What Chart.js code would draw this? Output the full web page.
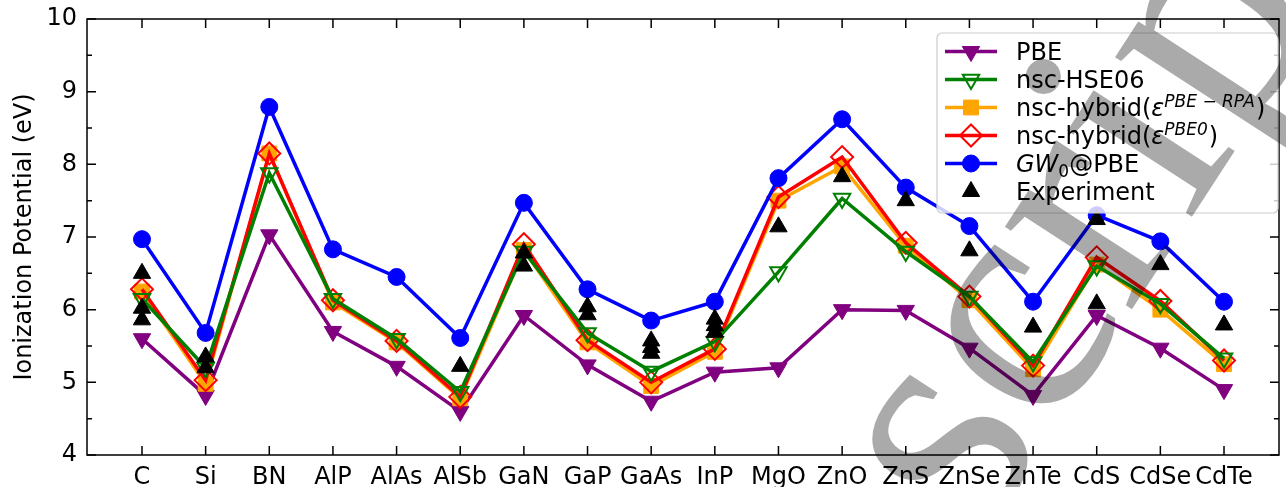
<!DOCTYPE html>
<html>
<head>
<meta charset="utf-8">
<script src="https://cdn.jsdelivr.net/npm/chart.js@4.4.1/dist/chart.umd.min.js"></script>
<style>
    html, body { margin: 0; padding: 0; background: #fff; overflow: hidden; }
    #wrap { width: 1292px; height: 487px; position: relative; }
</style>
</head>
<body>
<div id="wrap"><canvas id="chartCanvas"></canvas></div>
<script>
// Data
const categories = ['C', 'Si', 'BN', 'AlP', 'AlAs', 'AlSb', 'GaN', 'GaP', 'GaAs', 'InP',
    'MgO', 'ZnO', 'ZnS', 'ZnSe', 'ZnTe', 'CdS', 'CdSe', 'CdTe'];
const pbe = [5.60, 4.82, 7.03, 5.70, 5.22, 4.60, 5.92, 5.24, 4.74, 5.14, 5.20, 6.00, 5.99, 5.47, 4.82, 5.92, 5.47, 4.90];
const hse06 = [6.15, 5.20, 7.88, 6.15, 5.60, 4.87, 6.80, 5.68, 5.15, 5.56, 6.52, 7.53, 6.80, 6.18, 5.28, 6.60, 6.08, 5.33];
const hybridRpa = [6.25, 4.98, 8.15, 6.10, 5.55, 4.78, 6.82, 5.55, 4.95, 5.42, 7.50, 7.97, 6.88, 6.13, 5.18, 6.62, 6.00, 5.25];
const hybridPbe0 = [6.28, 5.03, 8.15, 6.13, 5.57, 4.80, 6.90, 5.58, 5.00, 5.46, 7.55, 8.10, 6.92, 6.18, 5.23, 6.72, 6.12, 5.30];
const gw0 = [6.97, 5.68, 8.79, 6.83, 6.45, 5.61, 7.47, 6.28, 5.85, 6.11, 7.81, 8.62, 7.68, 7.15, 6.11, 7.30, 6.94, 6.11];
const experiment = [[6.50, 6.02, 5.86], [5.35, 5.20], [], [], [], [5.22], [6.78, 6.60],
    [6.04, 5.93], [5.57, 5.48, 5.40], [5.87, 5.78, 5.69], [7.14], [7.83], [7.50], [6.81], [5.76],
    [7.24, 6.08], [6.62], [5.79]];
const yTicks = [4, 5, 6, 7, 8, 9, 10];

const FONT = "'DejaVu Sans', sans-serif";

const toPoints = arr => arr.map((v, i) => ({ x: i, y: v }));
const exptPoints = experiment.flatMap((vals, i) => vals.map(v => ({ x: i, y: v })));

// Series styling (legend uses the same list)
const series = [
    { label: 'PBE', data: pbe, color: '#800080', style: 'triangle', rot: 180, r: 10, open: false, order: 5 },
    { label: 'nsc-HSE06', data: hse06, color: '#008000', style: 'triangle', rot: 180, r: 9.5, open: true, order: 2 },
    { label: 'rpa', data: hybridRpa, color: '#FFA500', style: 'rect', rot: 0, r: 10.5, open: false, order: 4 },
    { label: 'pbe0', data: hybridPbe0, color: '#FF0000', style: 'rectRot', rot: 0, r: 11, open: true, order: 3 },
    { label: 'gw', data: gw0, color: '#0000FF', style: 'circle', rot: 0, r: 8.5, open: false, order: 1 },
];

const datasets = series.map(s => ({
    label: s.label,
    data: toPoints(s.data),
    borderColor: s.color,
    backgroundColor: s.color,
    borderWidth: 3.5,
    tension: 0,
    pointStyle: s.style,
    pointRotation: s.rot,
    pointRadius: s.r,
    pointHoverRadius: s.r,
    pointBackgroundColor: s.open ? 'rgba(0,0,0,0)' : s.color,
    pointBorderColor: s.color,
    pointBorderWidth: s.open ? 2 : 1,
    order: s.order,
}));
datasets.push({
    label: 'Experiment',
    data: exptPoints,
    showLine: false,
    pointStyle: 'triangle',
    pointRadius: 10,
    pointHoverRadius: 10,
    pointBackgroundColor: '#000',
    pointBorderColor: '#000',
    pointBorderWidth: 1,
    order: 0,
});

// Frame with inward ticks (matplotlib look)
const framePlugin = {
    id: 'frame',
    afterDatasetsDraw(chart) {
        const { ctx, chartArea: a, scales: { x, y } } = chart;
        ctx.save();
        ctx.strokeStyle = '#000';
        ctx.lineWidth = 1.5;
        ctx.strokeRect(a.left, a.top, a.right - a.left, a.bottom - a.top);
        ctx.beginPath();
        categories.forEach((c, i) => {
            const px = x.getPixelForValue(i);
            ctx.moveTo(px, a.bottom); ctx.lineTo(px, a.bottom - 9);
            ctx.moveTo(px, a.top); ctx.lineTo(px, a.top + 9);
        });
        for (let v = 4; v <= 10; v += 0.5) {
            const len = Number.isInteger(v) ? 9 : 5;
            const py = y.getPixelForValue(v);
            ctx.moveTo(a.left, py); ctx.lineTo(a.left + len, py);
            ctx.moveTo(a.right, py); ctx.lineTo(a.right - len, py);
        }
        ctx.stroke();
        ctx.restore();
    }
};

function drawMarker(ctx, style, x, y, r, rot) {
    ctx.beginPath();
    if (style === 'circle') {
        ctx.arc(x, y, r, 0, Math.PI * 2);
    } else if (style === 'triangle') {
        const rad = rot * Math.PI / 180;
        for (let k = 0; k < 3; k++) {
            const ang = rad + k * 2 * Math.PI / 3;
            const px = x + Math.sin(ang) * r, py = y - Math.cos(ang) * r;
            k === 0 ? ctx.moveTo(px, py) : ctx.lineTo(px, py);
        }
    } else if (style === 'rect') {
        const h = r * Math.SQRT1_2;
        ctx.rect(x - h, y - h, 2 * h, 2 * h);
    } else if (style === 'rectRot') {
        ctx.moveTo(x, y - r); ctx.lineTo(x + r, y); ctx.lineTo(x, y + r); ctx.lineTo(x - r, y);
    }
    ctx.closePath();
}

// Rich text pieces for each legend row
const legendText = [
    [{ t: 'PBE' }],
    [{ t: 'nsc-HSE06' }],
    [{ t: 'nsc-hybrid(' }, { t: 'ε', it: true }, { t: 'PBE \u2212 RPA', it: true, sup: true }, { t: ')' }],
    [{ t: 'nsc-hybrid(' }, { t: 'ε', it: true }, { t: 'PBE0', it: true, sup: true }, { t: ')' }],
    [{ t: 'GW', it: true }, { t: '0', sub: true }, { t: '@PBE' }],
    [{ t: 'Experiment' }],
];

const legendPlugin = {
    id: 'richLegend',
    afterDraw(chart) {
        const ctx = chart.ctx;
        const bx = 937, by = 33, bw = 341, bh = 180;
        ctx.save();
        ctx.beginPath();
        ctx.roundRect(bx, by, bw, bh, 5);
        ctx.fillStyle = 'rgba(255,255,255,0.8)';
        ctx.fill();
        ctx.strokeStyle = '#cccccc';
        ctx.lineWidth = 1.2;
        ctx.stroke();

        const rows = series.concat([{ color: '#000', style: 'triangle', rot: 0, r: 10, open: false, noLine: true }]);
        rows.forEach((s, i) => {
            const cy = 51.5 + i * 28;
            if (!s.noLine) {
                ctx.strokeStyle = s.color;
                ctx.lineWidth = 3.5;
                ctx.beginPath();
                ctx.moveTo(945, cy); ctx.lineTo(997, cy);
                ctx.stroke();
            }
            drawMarker(ctx, s.style, 971, cy, s.r, s.rot);
            ctx.fillStyle = s.open ? 'rgba(0,0,0,0)' : s.color;
            ctx.fill();
            ctx.strokeStyle = s.color;
            ctx.lineWidth = s.open ? 2 : 1;
            ctx.stroke();

            let tx = 1016;
            const base = cy + 8.5;
            ctx.fillStyle = '#000';
            ctx.textBaseline = 'alphabetic';
            ctx.textAlign = 'left';
            legendText[i].forEach(p => {
                const size = (p.sup || p.sub) ? 17 : 24;
                ctx.font = `${p.it ? 'italic ' : ''}${size}px ${FONT}`;
                const dy = p.sup ? -9 : (p.sub ? 5 : 0);
                ctx.fillText(p.t, tx, base + dy);
                tx += ctx.measureText(p.t).width + (p.sup ? 1 : 0);
            });
        });
        ctx.restore();

        // grey watermark on top of everything
        ctx.save();
        ctx.globalCompositeOperation = 'multiply';
        ctx.fillStyle = 'rgb(170,170,170)';
        ctx.font = "330px 'Liberation Serif', serif";
        ctx.textBaseline = 'alphabetic';
        ctx.translate(950, 450);
        ctx.rotate(-57 * Math.PI / 180);
        ctx.fillText('script', -0.195 * 330, 0.23 * 330);
        ctx.restore();
    }
};

new Chart(document.getElementById('chartCanvas'), {
    type: 'line',
    data: { datasets },
    options: {
        responsive: true,
        maintainAspectRatio: false,
        animation: false,
        devicePixelRatio: 1,
        layout: { padding: { top: 19, right: 1.5, left: 0, bottom: 0 } },
        plugins: { legend: { display: false }, tooltip: { enabled: false } },
        scales: {
            x: {
                type: 'linear',
                min: -0.864,
                max: 17.864,
                afterFit: s => { s.height = 32; s.paddingLeft = 0; s.paddingRight = 0; },
                afterBuildTicks: s => { s.ticks = categories.map((c, i) => ({ value: i })); },
                grid: { display: false, drawTicks: false },
                border: { display: false },
                ticks: {
                    autoSkip: false,
                    maxRotation: 0,
                    padding: 8,
                    color: '#000',
                    font: { family: FONT, size: 24 },
                    callback: v => categories[v] ?? '',
                },
            },
            y: {
                min: 4,
                max: 10,
                afterFit: s => { s.width = 87; s.paddingTop = 0; s.paddingBottom = 0; },
                afterBuildTicks: s => { s.ticks = yTicks.map(v => ({ value: v })); },
                grid: { display: false, drawTicks: false },
                border: { display: false },
                title: {
                    display: true,
                    text: 'Ionization Potential (eV)',
                    color: '#000',
                    font: { family: FONT, size: 24 },
                    padding: { top: 10, bottom: 0 },
                },
                ticks: {
                    padding: 10,
                    color: '#000',
                    font: { family: FONT, size: 24 },
                    callback: v => String(v),
                },
            },
        },
    },
    plugins: [framePlugin, legendPlugin],
});
</script>
</body>
</html>
